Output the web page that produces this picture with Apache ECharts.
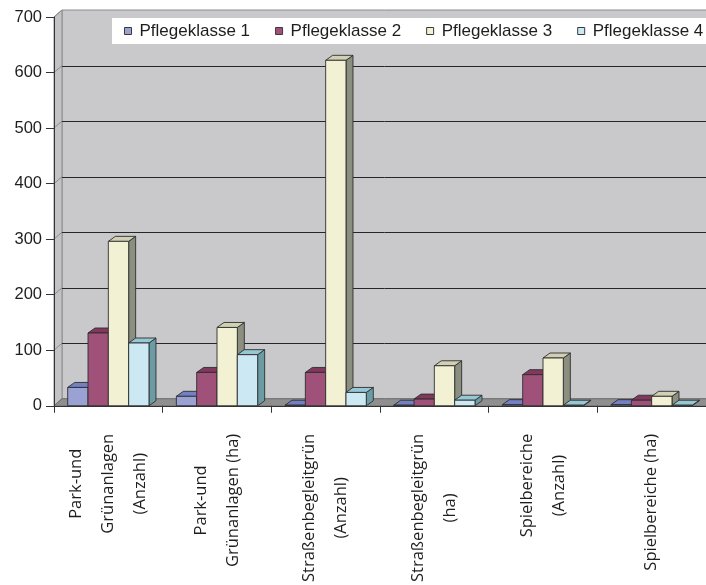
<!DOCTYPE html>
<html>
<head>
<meta charset="utf-8">
<title>Pflegeklassen</title>
<script src="https://cdn.jsdelivr.net/npm/echarts@6/dist/echarts.min.js"></script>
<style>
  html, body { margin: 0; padding: 0; background: #ffffff; }
  #chart { width: 706px; height: 585px; }
</style>
</head>
<body>
<div id="chart"></div>
<script>
// Categories along the x axis
const categories = [
  'Park-und\nGrünanlagen\n(Anzahl)',
  'Park-und\nGrünanlagen (ha)',
  'Straßenbegleitgrün\n(Anzahl)',
  'Straßenbegleitgrün\n(ha)',
  'Spielbereiche\n(Anzahl)',
  'Spielbereiche (ha)'
];

// Series names
const seriesNames = ['Pflegeklasse 1', 'Pflegeklasse 2', 'Pflegeklasse 3', 'Pflegeklasse 4'];

// Values per Pflegeklasse
const pflegeklasse1 = [33, 17, 1, 1, 2, 2];
const pflegeklasse2 = [131, 60, 60, 12, 56, 10];
const pflegeklasse3 = [296, 141, 622, 72, 86, 17];
const pflegeklasse4 = [113, 92, 24, 10, 1, 1];

// Value axis ticks
const yTicks = [0, 100, 200, 300, 400, 500, 600, 700];

const seriesValues = [pflegeklasse1, pflegeklasse2, pflegeklasse3, pflegeklasse4];

// Face colours: front, top, side
const palette = [
  { front: '#9aa1d3', top: '#7380c3', side: '#5f6aa6' },
  { front: '#a0517a', top: '#82385c', side: '#6a2c4a' },
  { front: '#f3f1d4', top: '#d2d0b4', side: '#8b8f7f' },
  { front: '#cbe8f3', top: '#95c7d5', side: '#6b9ca4' }
];

const EDGE = '#2e2e2e';
const WALL_DX = 8, WALL_DY = 7;   // depth offset of the back wall
const BAR_DX = 7, BAR_DY = 5;     // depth offset of each column
const BAR_FRACTION = 0.187;       // column width relative to category band

function columnRenderer(idx) {
  const c = palette[idx];
  return function (params, api) {
    const cat = api.value(0);
    const val = api.value(1);
    const base = api.coord([cat, 0]);
    const top = api.coord([cat, val]);
    const band = api.size([1, 0])[0];
    const bw = band * BAR_FRACTION;
    const x0 = base[0] - 2 * bw + idx * bw;
    const x1 = x0 + bw;
    const y0 = base[1];
    const y1 = top[1];
    const st = { stroke: EDGE, lineWidth: 0.9, lineJoin: 'round' };
    return {
      type: 'group',
      children: [
        {
          type: 'polygon',
          shape: { points: [[x1, y1], [x1 + BAR_DX, y1 - BAR_DY], [x1 + BAR_DX, y0 - BAR_DY], [x1, y0]] },
          style: Object.assign({ fill: c.side }, st)
        },
        {
          type: 'polygon',
          shape: { points: [[x0, y1], [x0 + BAR_DX, y1 - BAR_DY], [x1 + BAR_DX, y1 - BAR_DY], [x1, y1]] },
          style: Object.assign({ fill: c.top }, st)
        },
        {
          type: 'rect',
          shape: { x: x0, y: y1, width: bw, height: Math.max(y0 - y1, 0) },
          style: Object.assign({ fill: c.front }, st)
        }
      ]
    };
  };
}

// Walls, floor and gridlines of the 3D plot box
function frameRenderer(params, api) {
  const cs = params.coordSys;
  const L = cs.x, R = cs.x + cs.width + 20;
  const yTop = api.coord([0, yTicks[yTicks.length - 1]])[1];
  const yBot = api.coord([0, 0])[1];
  const children = [];
  children.push({
    type: 'rect',
    shape: { x: L + WALL_DX, y: yTop - WALL_DY, width: R - L, height: yBot - yTop },
    style: { fill: '#c9c9cb', stroke: '#8c8c8c', lineWidth: 1 }
  });
  children.push({
    type: 'polygon',
    shape: { points: [[L, yTop], [L + WALL_DX, yTop - WALL_DY], [L + WALL_DX, yBot - WALL_DY], [L, yBot]] },
    style: { fill: '#c3c3c5', stroke: '#8c8c8c', lineWidth: 1 }
  });
  for (let i = 1; i < yTicks.length - 1; i++) {
    const y = Math.round(api.coord([0, yTicks[i]])[1]) + 0.5;
    children.push({
      type: 'line',
      shape: { x1: L + WALL_DX, y1: y - WALL_DY, x2: R + WALL_DX, y2: y - WALL_DY },
      style: { stroke: '#262626', lineWidth: 1 }
    });
  }
  for (let i = 0; i < yTicks.length; i++) {
    const y = api.coord([0, yTicks[i]])[1];
    children.push({
      type: 'line',
      shape: { x1: L, y1: y, x2: L + WALL_DX, y2: y - WALL_DY },
      style: { stroke: '#8a8a8a', lineWidth: 1 }
    });
  }
  children.push({
    type: 'polygon',
    shape: { points: [[L, yBot], [L + WALL_DX, yBot - WALL_DY], [R + WALL_DX, yBot - WALL_DY], [R, yBot]] },
    style: { fill: '#8f8f8f', stroke: '#6e6e6e', lineWidth: 1 }
  });
  return { type: 'group', children: children };
}

const series = [{
  type: 'custom',
  name: 'frame',
  z: 1,
  silent: true,
  renderItem: frameRenderer,
  data: [[0, 0]],
  clip: false
}];

seriesValues.forEach(function (vals, i) {
  series.push({
    type: 'custom',
    name: seriesNames[i],
    z: 2 + i,
    renderItem: columnRenderer(i),
    itemStyle: { color: palette[i].front },
    data: vals.map(function (v, k) { return [k, v]; }),
    clip: false
  });
});

const chart = echarts.init(document.getElementById('chart'), null, { renderer: 'canvas' });

chart.setOption({
  animation: false,
  backgroundColor: '#ffffff',
  grid: { left: 54, right: 0, top: 17, bottom: 179 },
  legend: {
    data: seriesNames,
    left: 112,
    top: 18,
    width: 640,
    backgroundColor: '#ffffff',
    padding: [4, 12, 4, 12],
    itemWidth: 7,
    itemHeight: 7,
    itemGap: 25,
    icon: 'rect',
    itemStyle: { borderColor: '#3a3a3a', borderWidth: 1 },
    textStyle: {
      fontFamily: 'Liberation Sans',
      fontSize: 17,
      color: '#1e1e1e',
      lineHeight: 18,
      padding: [0, 0, 0, 3]
    }
  },
  xAxis: {
    type: 'category',
    data: categories,
    z: 10,
    axisLine: { show: true, lineStyle: { color: '#333333', width: 1 } },
    axisTick: { show: true, length: 7, lineStyle: { color: '#333333' } },
    axisLabel: {
      interval: 0,
      rotate: 90,
      margin: 28,
      formatter: function (v) {
        return v.split('\n').map(function (s) { return '{c|' + s + '}'; }).join('\n');
      },
      rich: {
        c: {
          fontFamily: 'Open Sans',
          fontSize: 16.5,
          lineHeight: 32,
          align: 'center',
          color: '#1e1e1e'
        }
      }
    }
  },
  yAxis: {
    type: 'value',
    min: 0,
    max: 700,
    interval: 100,
    z: 10,
    axisLine: { show: true, lineStyle: { color: '#333333', width: 1 } },
    axisTick: { show: true, length: 8, lineStyle: { color: '#333333' } },
    splitLine: { show: false },
    axisLabel: {
      margin: 12,
      fontFamily: 'Liberation Sans',
      fontSize: 16.5,
      color: '#1e1e1e'
    }
  },
  series: series
});
</script>
</body>
</html>
